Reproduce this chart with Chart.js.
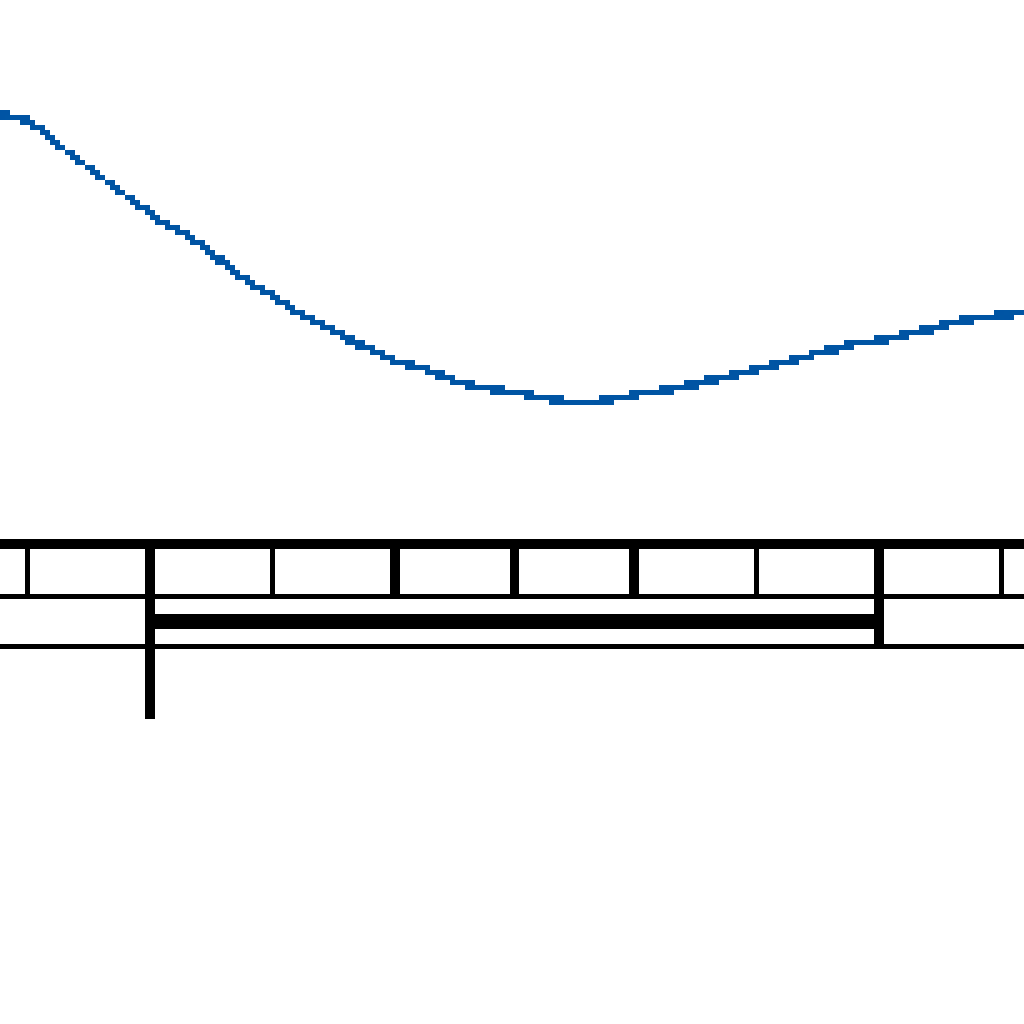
<!DOCTYPE html>
<html>
<head>
<meta charset="utf-8">
<title>Curve and ruler</title>
<script src="https://cdn.jsdelivr.net/npm/chart.js@4.4.1/dist/chart.umd.min.js"></script>
<style>
    html, body { margin: 0; padding: 0; background: #ffffff; }
    #wrap { width: 1024px; height: 1024px; position: relative; }
    #chart { image-rendering: pixelated; }
</style>
</head>
<body>
<div id="wrap"><canvas id="chart"></canvas></div>
<script>
// Curve samples (x in ruler units, y in value units)
const curveX = [-1.25, -1, -0.75, -0.5, -0.25, 0, 0.25, 0.5, 0.75, 1, 1.25, 1.5, 1.75, 2, 2.25, 2.5, 2.75,
    3, 3.25, 3.5, 3.75, 4, 4.25, 4.5, 4.75, 5, 5.25, 5.5, 5.75, 6, 6.25, 6.5, 6.75, 7, 7.25];
const curveY = [8.90, 8.81, 8.58, 8.36, 8.14, 7.92, 7.74, 7.54, 7.30, 7.12, 6.93, 6.78, 6.62, 6.49, 6.40, 6.29, 6.21,
    6.17, 6.12, 6.08, 6.09, 6.15, 6.20, 6.25, 6.32, 6.40, 6.47, 6.55, 6.63, 6.68, 6.74, 6.81, 6.88, 6.92, 6.96];

// Ruler below the curve (x in ruler units, depth in rows)
const tickX = [-1, 0, 1, 2, 3, 4, 5, 6, 7];
const tickDepth = [1.05, 3.5, 1.05, 1.05, 1.05, 1.05, 1.05, 2.05, 1.05];
const ruleRows = [0, 1.05, 2.05];
const spanRow = 1.55;
const spanFrom = 0;
const spanTo = 6;

const BLUE = '#0055a4';
const BLACK = '#000000';
const X_MIN = -1.236;
const X_MAX = 7.2;

// Build a black segment dataset on the ruler axis
function segment(points, width) {
    return {
        type: 'line',
        data: points,
        yAxisID: 'yRuler',
        borderColor: BLACK,
        borderWidth: width,
        pointRadius: 0,
        tension: 0,
        fill: false
    };
}

const datasets = [{
    type: 'line',
    data: curveX.map((x, i) => ({ x: x, y: curveY[i] })),
    yAxisID: 'y',
    borderColor: BLUE,
    borderWidth: 6,
    pointRadius: 0,
    cubicInterpolationMode: 'monotone',
    fill: false
}];

// Horizontal rules (top one is heavy)
ruleRows.forEach((row, i) => {
    datasets.push(segment([{ x: X_MIN - 1, y: row }, { x: X_MAX + 1, y: row }], i === 0 ? 10 : 5));
});

// Ticks, heavy on even positions
tickX.forEach((x, i) => {
    datasets.push(segment([{ x: x, y: 0 }, { x: x, y: tickDepth[i] }], x % 2 === 0 ? 10 : 5));
});

// Span bar
datasets.push(segment([{ x: spanFrom, y: spanRow }, { x: spanTo, y: spanRow }], 15));

// Low-res look: snap antialiased pixels to solid or empty
const crispPlugin = {
    id: 'crisp',
    afterDraw(chart) {
        const ctx = chart.ctx;
        const c = chart.canvas;
        const img = ctx.getImageData(0, 0, c.width, c.height);
        const d = img.data;
        for (let i = 0; i < d.length; i += 4) {
            d[i + 3] = d[i + 3] >= 100 ? 255 : 0;
        }
        ctx.putImageData(img, 0, 0);
    }
};

new Chart(document.getElementById('chart'), {
    type: 'line',
    data: { datasets: datasets },
    options: {
        responsive: true,
        maintainAspectRatio: false,
        devicePixelRatio: 205 / 1024,
        animation: false,
        layout: { padding: 0, autoPadding: false },
        plugins: {
            legend: { display: false },
            tooltip: { enabled: false }
        },
        scales: {
            x: { type: 'linear', min: X_MIN, max: X_MAX, display: false },
            y: { type: 'linear', min: 0, max: 10, display: false },
            yRuler: { type: 'linear', axis: 'y', min: -10.888, max: 9.592, reverse: true, display: false }
        }
    },
    plugins: [crispPlugin]
});
</script>
</body>
</html>
